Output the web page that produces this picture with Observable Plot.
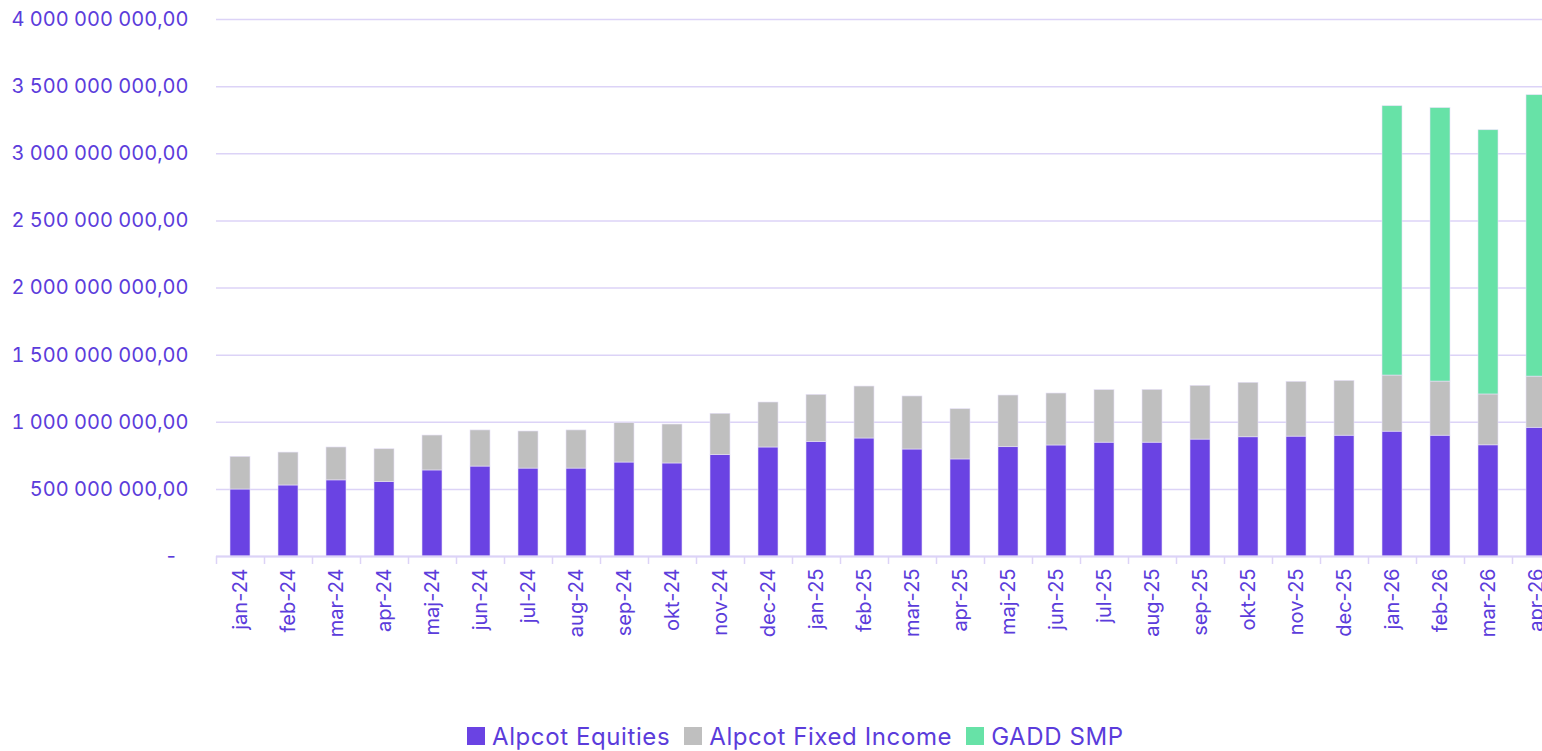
<!DOCTYPE html>
<html>
<head>
<meta charset="utf-8">
<script src="https://cdn.jsdelivr.net/npm/d3@7"></script>
<script src="https://cdn.jsdelivr.net/npm/@observablehq/plot@0.6"></script>
<style>
  html, body { margin: 0; padding: 0; background: #ffffff; overflow: hidden; font-family: Inter, "Noto Sans", sans-serif; }
  #chart svg { overflow: visible; display: block; }
  #legend { display: flex; align-items: center; margin-left: 467px; padding-top: 16px; height: 30px; font-size: 24px; letter-spacing: 0.6px; color: #5b3cdb; }
  #legend .item { display: flex; align-items: center; margin-right: 14px; }
  #legend .sw { width: 18px; height: 18px; margin-right: 7px; }
</style>
</head>
<body>
<div id="chart"></div>
<div id="legend"></div>
<script>
const months = ["jan-24","feb-24","mar-24","apr-24","maj-24","jun-24","jul-24","aug-24","sep-24","okt-24","nov-24","dec-24",
                "jan-25","feb-25","mar-25","apr-25","maj-25","jun-25","jul-25","aug-25","sep-25","okt-25","nov-25","dec-25",
                "jan-26","feb-26","mar-26","apr-26"];
const equities = [499e6,529e6,567e6,554e6,641e6,670e6,655e6,655e6,700e6,693e6,755e6,812e6,
                  854e6,879e6,797e6,723e6,814e6,827e6,848e6,848e6,871e6,888e6,893e6,900e6,
                  930e6,900e6,828e6,959e6];
const fixedIncome = [243e6,245e6,245e6,245e6,260e6,269e6,276e6,284e6,293e6,290e6,308e6,335e6,
                     350e6,387e6,395e6,374e6,385e6,387e6,391e6,393e6,400e6,406e6,408e6,408e6,
                     418e6,403e6,379e6,381e6];
const gaddSmp = [0,0,0,0,0,0,0,0,0,0,0,0,
                 0,0,0,0,0,0,0,0,0,0,0,0,
                 2006e6,2037e6,1968e6,2096e6];
const seriesNames = ["Alpcot Equities","Alpcot Fixed Income","GADD SMP"];
const seriesColors = ["#6a43e3","#bfbfbf","#67e2a7"];
const yTicks = [0,5e8,1e9,1.5e9,2e9,2.5e9,3e9,3.5e9,4e9];

const textColor = "#5b3cdb";
const gridColor = "#dcd3f7";

const rows = [];
months.forEach((m, i) => {
  [equities, fixedIncome, gaddSmp].forEach((arr, s) => {
    rows.push({month: m, series: seriesNames[s], value: arr[i]});
  });
});

const loc = d3.formatLocale({decimal: ",", thousands: " ", grouping: [3], currency: ["", ""]});
const fmt = loc.format(",.2f");

const chart = Plot.plot({
  width: 1542,
  height: 705,
  marginTop: 19,
  marginBottom: 149,
  marginLeft: 216,
  marginRight: 0,
  style: {fontFamily: "Inter, 'Noto Sans', sans-serif", background: "#ffffff", overflow: "visible"},
  x: {type: "band", domain: months, range: [216, 1560], padding: 0, label: null},
  y: {domain: [0, 4e9], label: null},
  color: {domain: seriesNames, range: seriesColors},
  marks: [
    Plot.gridY(yTicks, {stroke: gridColor, strokeOpacity: 1, strokeWidth: 1.5}),
    Plot.barY(rows, {x: "month", y: "value", fill: "series", insetLeft: 14, insetRight: 14, stroke: "#e6e0f7", strokeWidth: 0.6}),
    Plot.ruleY([0], {stroke: gridColor, strokeWidth: 2}),
    Plot.axisX(months, {tickSize: 8, tickFormat: null, label: null, dx: -24, stroke: gridColor, strokeWidth: 1.5}),
    Plot.axisX(months, {tickSize: 0, tickPadding: 12, tickRotate: -90, fontSize: 20, fill: textColor, label: null,
      style: {letterSpacing: "1px"}}),
    Plot.axisY(yTicks, {tickSize: 0, tickPadding: 28, fontSize: 20, fill: textColor, label: null,
      tickFormat: d => d === 0 ? "-\u00a0\u00a0" : fmt(d)})
  ]
});
document.getElementById("chart").appendChild(chart);

const legend = document.getElementById("legend");
seriesNames.forEach((name, i) => {
  const item = document.createElement("div");
  item.className = "item";
  const sw = document.createElement("div");
  sw.className = "sw";
  sw.style.background = seriesColors[i];
  const t = document.createElement("span");
  t.textContent = name;
  item.appendChild(sw);
  item.appendChild(t);
  legend.appendChild(item);
});
</script>
</body>
</html>
